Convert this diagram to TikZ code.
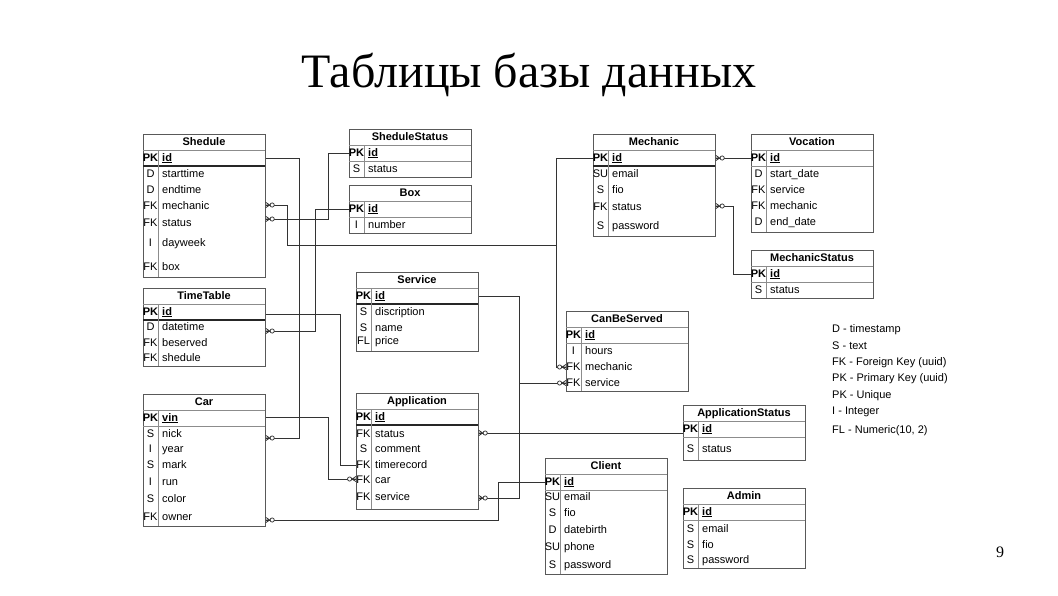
\documentclass[tikz,border=0pt]{standalone}
\usepackage{fontspec}
\setmainfont{Liberation Sans}
\newfontfamily\titlefont{Liberation Serif}
\tikzset{
  tbl/.style={draw=black!65, line width=0.8pt, minimum width=122pt, inner sep=0pt, anchor=north west},
  sepl/.style={draw=black!45, line width=0.6pt},
  pkthick/.style={draw=black!85, line width=1.3pt},
  pkthin/.style={draw=black!45, line width=0.6pt},
  hdr/.style={font=\fontsize{11}{12}\selectfont\bfseries, inner sep=0pt, text height=8pt, text depth=2pt},
  fld/.style={font=\fontsize{11}{12}\selectfont, anchor=west, inner sep=0pt, text height=8pt, text depth=2pt},
  keyc/.style={font=\fontsize{11}{12}\selectfont, inner sep=0pt, text height=8pt, text depth=2pt},
  conn/.style={draw=black!80, line width=0.75pt},
  legend/.style={font=\fontsize{11}{12}\selectfont, anchor=west, inner sep=0pt, text height=8pt, text depth=2pt},
}
\newcount\rowc
% #1 name, #2 left, #3 top, #4 bottom, #5 title, #6 pk field, #7 pk line style
\newcommand\ertable[7]{%
  \pgfmathsetlengthmacro\erh{(#4-#3)*1pt}%
  \node[tbl, minimum height=\erh] (#1) at (#2,#3) {};
  \node[hdr] (#1-title) at (#2+61,#3+8) {#5};
  \draw[sepl] (#2,#3+16) -- (#2+122,#3+16);
  \draw[#7] (#2,#3+32) -- (#2+122,#3+32);
  \draw[sepl] (#2+15,#3+16) -- (#2+15,#4);
  \node[keyc, font=\fontsize{11}{12}\selectfont\bfseries] (#1-pkk) at (#2+7.5,#3+24) {PK};
  \node[fld, font=\fontsize{11}{12}\selectfont\bfseries] (#1-pkf) at (#2+19,#3+24) {\underline{#6}};
}
% #1 left, #2 y, #3 key, #4 field
\newcommand\errow[4]{%
  \global\advance\rowc by 1
  \node[keyc] (rk\the\rowc) at (#1+7.5,#2) {#3};
  \node[fld] (rf\the\rowc) at (#1+19,#2) {#4};
}
% zero-or-many marker: #1 point, #2 direction (1: table on the left, -1: table on the right)
\newcommand\zmany[2]{%
  \begin{scope}[shift={(#1)}, xscale=#2]
    \draw[conn] (0,-2.6) -- (4,0) -- (0,2.6) (0,0) -- (4,0);
    \draw[conn, fill=white] (6.4,0) circle (2.1);
  \end{scope}
}
\begin{document}
\begin{tikzpicture}[x=1pt,y=-1pt]
\path[use as bounding box, fill=white] (0,0) rectangle (1058,595);

\node[font=\titlefont\fontsize{48}{54}\selectfont, inner sep=0pt] (title) at (529,75) {Таблицы базы данных};
\node[font=\titlefont\fontsize{16}{18}\selectfont, inner sep=0pt] (pnum) at (1000,552) {9};

% ---------------- tables ----------------
\ertable{shed}{143}{134}{277}{Shedule}{id}{pkthick}
\errow{143}{174}{D}{starttime}
\errow{143}{190}{D}{endtime}
\errow{143}{206}{FK}{mechanic}
\errow{143}{223}{FK}{status}
\errow{143}{243}{I}{dayweek}
\errow{143}{267}{FK}{box}

\ertable{ss}{349}{129}{177}{SheduleStatus}{id}{pkthin}
\errow{349}{169}{S}{status}

\ertable{box}{349}{185}{233}{Box}{id}{pkthin}
\errow{349}{225}{I}{number}

\ertable{mech}{593}{134}{236}{Mechanic}{id}{pkthick}
\errow{593}{174}{SU}{email}
\errow{593}{190}{S}{fio}
\errow{593}{207}{FK}{status}
\errow{593}{226}{S}{password}

\ertable{voc}{751}{134}{232}{Vocation}{id}{pkthin}
\errow{751}{174}{D}{start\_date}
\errow{751}{190}{FK}{service}
\errow{751}{206}{FK}{mechanic}
\errow{751}{222}{D}{end\_date}

\ertable{ms}{751}{250}{298}{MechanicStatus}{id}{pkthin}
\errow{751}{290}{S}{status}

\ertable{tt}{143}{288}{366}{TimeTable}{id}{pkthick}
\errow{143}{327}{D}{datetime}
\errow{143}{343}{FK}{beserved}
\errow{143}{358}{FK}{shedule}

\ertable{car}{143}{394}{526}{Car}{vin}{pkthin}
\errow{143}{434}{S}{nick}
\errow{143}{449}{I}{year}
\errow{143}{465}{S}{mark}
\errow{143}{482}{I}{run}
\errow{143}{499}{S}{color}
\errow{143}{517}{FK}{owner}

\ertable{svc}{356}{272}{351}{Service}{id}{pkthick}
\errow{356}{312}{S}{discription}
\errow{356}{328}{S}{name}
\errow{356}{341}{FL}{price}

\ertable{app}{356}{393}{509}{Application}{id}{pkthick}
\errow{356}{434}{FK}{status}
\errow{356}{449}{S}{comment}
\errow{356}{465}{FK}{timerecord}
\errow{356}{480}{FK}{car}
\errow{356}{497}{FK}{service}

\ertable{cbs}{566}{311}{391}{CanBeServed}{id}{pkthin}
\errow{566}{351}{I}{hours}
\errow{566}{367}{FK}{mechanic}
\errow{566}{383}{FK}{service}

\ertable{as}{683}{405}{460}{ApplicationStatus}{id}{pkthin}
\errow{683}{449}{S}{status}

\ertable{cli}{545}{458}{574}{Client}{id}{pkthin}
\errow{545}{497}{SU}{email}
\errow{545}{513}{S}{fio}
\errow{545}{530}{D}{datebirth}
\errow{545}{547}{SU}{phone}
\errow{545}{565}{S}{password}

\ertable{adm}{683}{488}{568}{Admin}{id}{pkthin}
\errow{683}{529}{S}{email}
\errow{683}{545}{S}{fio}
\errow{683}{560}{S}{password}

% ---------------- legend ----------------
\node[legend] (l1) at (832,329) {D - timestamp};
\node[legend] (l2) at (832,346) {S - text};
\node[legend] (l3) at (832,362) {FK - Foreign Key (uuid)};
\node[legend] (l4) at (832,378) {PK - Primary Key (uuid)};
\node[legend] (l5) at (832,395) {PK - Unique};
\node[legend] (l6) at (832,411) {I - Integer};
\node[legend] (l7) at (832,430) {FL - Numeric(10, 2)};

% ---------------- connector levels ----------------
\coordinate (shed-id) at (0,158);
\coordinate (shed-mech) at (0,205);
\coordinate (shed-st) at (0,219);
\coordinate (ss-id) at (0,153);
\coordinate (box-id) at (0,209);
\coordinate (mech-id) at (0,158);
\coordinate (mech-st) at (0,206);
\coordinate (ms-id) at (0,274);
\coordinate (tt-id) at (0,314);
\coordinate (tt-dt) at (0,331);
\coordinate (car-vin) at (0,417);
\coordinate (car-nick) at (0,438);
\coordinate (car-own) at (0,520);
\coordinate (svc-id) at (0,296);
\coordinate (app-st) at (0,433);
\coordinate (app-tr) at (0,465);
\coordinate (app-car) at (0,479);
\coordinate (app-svc) at (0,498);
\coordinate (cbs-mech) at (0,367);
\coordinate (cbs-svc) at (0,383);
\coordinate (cli-id) at (0,482);
\coordinate (h245) at (0,245);
% bend columns
\coordinate (v287) at (287,0);
\coordinate (v299) at (299,0);
\coordinate (v315) at (315,0);
\coordinate (v328) at (328,0);
\coordinate (v340) at (340,0);
\coordinate (v498) at (498,0);
\coordinate (v519) at (519,0);
\coordinate (v556) at (556,0);
\coordinate (v733) at (733,0);

% ---------------- connectors ----------------
\draw[conn] (shed.east|-shed-id) -| (v299|-car-nick) -- (car.east|-car-nick);
\draw[conn] (box.west|-box-id) -| (v315|-tt-dt) -- (tt.east|-tt-dt);
\draw[conn] (mech.west|-mech-id) -| (v556|-h245) -| (v287|-shed-mech) -- (shed.east|-shed-mech);
\draw[conn] (v556|-h245) -- (v556|-cbs-mech) -- (cbs.west|-cbs-mech);
\draw[conn] (ss.west|-ss-id) -| (v328|-shed-st) -- (shed.east|-shed-st);
\draw[conn] (tt.east|-tt-id) -| (v340|-app-tr) -- (app.west|-app-tr);
\draw[conn] (car.east|-car-vin) -| (v328|-app-car) -- (app.west|-app-car);
\draw[conn] (cli.west|-cli-id) -| (v498|-car-own) -- (car.east|-car-own);
\draw[conn] (svc.east|-svc-id) -| (v519|-cbs-svc) -- (cbs.west|-cbs-svc);
\draw[conn] (v519|-cbs-svc) |- (app.east|-app-svc);
\draw[conn] (app.east|-app-st) -- (as.west|-app-st);
\draw[conn] (mech.east|-mech-id) -- (voc.west|-mech-id);
\draw[conn] (mech.east|-mech-st) -| (v733|-ms-id) -- (ms.west|-ms-id);

% ---------------- markers ----------------
\zmany{shed.east|-shed-mech}{1}
\zmany{shed.east|-shed-st}{1}
\zmany{tt.east|-tt-dt}{1}
\zmany{car.east|-car-nick}{1}
\zmany{car.east|-car-own}{1}
\zmany{cbs.west|-cbs-mech}{-1}
\zmany{cbs.west|-cbs-svc}{-1}
\zmany{app.west|-app-car}{-1}
\zmany{app.east|-app-st}{1}
\zmany{app.east|-app-svc}{1}
\zmany{mech.east|-mech-id}{1}
\zmany{mech.east|-mech-st}{1}
\end{tikzpicture}
\end{document}
